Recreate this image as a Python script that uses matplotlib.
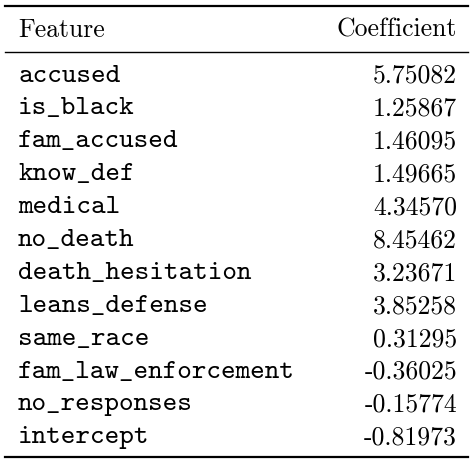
import matplotlib
matplotlib.use("Agg")
import matplotlib.pyplot as plt

features = ["accused", "is_black", "fam_accused", "know_def", "medical", "no_death",
            "death_hesitation", "leans_defense", "same_race", "fam_law_enforcement",
            "no_responses", "intercept"]
coefs = ["5.75082", "1.25867", "1.46095", "1.49665", "4.34570", "8.45462",
         "3.23671", "3.85258", "0.31295", "-0.36025", "-0.15774", "-0.81973"]

W, H = 472, 464
fig = plt.figure(figsize=(W / 100, H / 100), dpi=100)
ax = fig.add_axes([0, 0, 1, 1])
ax.set_xlim(0, W)
ax.set_ylim(H, 0)
ax.axis("off")

fs_tt, fs_rm = 20, 18.5
xl, xr = 18, 457
ax.text(xl, 30, "Feature", family="cmr10", fontsize=fs_rm, va="center", ha="left")
ax.text(xr, 30, "Coefficient", family="cmr10", fontsize=fs_rm, va="center", ha="right")
for y, lw in [(7, 1.6), (53, 1.0), (458, 1.6)]:
    ax.plot([5, 468], [y, y], color="black", lw=lw)

for i, (f, c) in enumerate(zip(features, coefs)):
    y = 76 + i * 32.9
    ax.text(xl, y, f, family="cmtt10", fontsize=fs_tt, va="center", ha="left")
    ax.text(xr, y, c, family="cmr10", fontsize=fs_rm, va="center", ha="right")

fig.savefig("out.png", dpi=100)
